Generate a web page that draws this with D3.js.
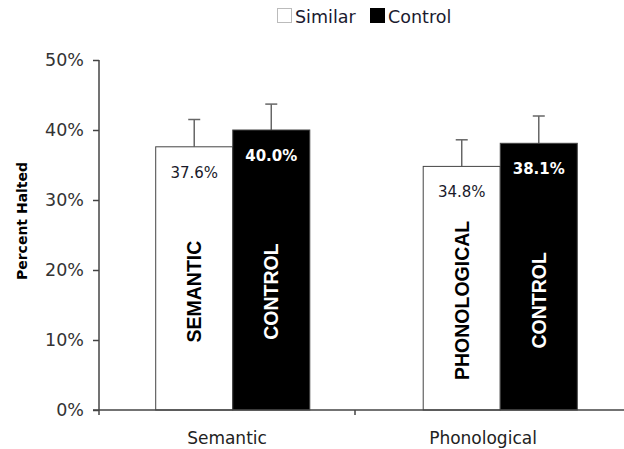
<!DOCTYPE html>
<html><head><meta charset="utf-8">
<script src="https://cdn.jsdelivr.net/npm/d3@7"></script>
<style>body{margin:0;background:#fff}svg{display:block}</style>
</head><body>
<script>
const categories = ["Semantic", "Phonological"];
const seriesNames = ["Similar", "Control"];
const similarValues = [37.6, 34.8];
const controlValues = [40.0, 38.1];
const similarErrors = [3.9, 3.8];
const controlErrors = [3.7, 3.9];
const barLabelsSimilar = ["SEMANTIC", "PHONOLOGICAL"];
const barLabelsControl = ["CONTROL", "CONTROL"];
const yTicks = [0, 10, 20, 30, 40, 50];

const W = 624, H = 449;
const svg = d3.select("body").append("svg").attr("width", W).attr("height", H);
const font = "'DejaVu Sans', Verdana, sans-serif";

const y = d3.scaleLinear().domain([0, 50]).range([410, 60]);
const xAxisScale = d3.scaleBand().domain(categories).range([99, 611]);
const xg = d3.scaleBand().domain(categories).range([99, 634]).paddingInner(0.424).paddingOuter(0.212);
const x1 = d3.scaleBand().domain(seriesNames).range([0, xg.bandwidth()]);

const data = [];
categories.forEach((c, i) => {
  const gm = Math.min(similarValues[i], controlValues[i]);
  data.push({cat: c, s: "Similar", v: similarValues[i], e: similarErrors[i], lab: barLabelsSimilar[i], fill: "#fff", tc: "#1a1a2a", grpMin: gm});
  data.push({cat: c, s: "Control", v: controlValues[i], e: controlErrors[i], lab: barLabelsControl[i], fill: "#000", tc: "#fff", grpMin: gm});
});
const bx = d => xg(d.cat) + x1(d.s);
const bw = x1.bandwidth();

// error bars
const eb = svg.append("g").attr("stroke", "#666").attr("stroke-width", 1.5);
data.forEach(d => {
  const cx = bx(d) + bw / 2;
  eb.append("line").attr("x1", cx).attr("x2", cx).attr("y1", y(d.v)).attr("y2", y(d.v + d.e));
  eb.append("line").attr("x1", cx - 6).attr("x2", cx + 6).attr("y1", y(d.v + d.e)).attr("y2", y(d.v + d.e));
});

// bars
svg.append("g").selectAll("rect").data(data).join("rect")
  .attr("x", d => bx(d)).attr("y", d => y(d.v))
  .attr("width", bw).attr("height", d => y(0) - y(d.v))
  .attr("fill", d => d.fill).attr("stroke", "#444").attr("stroke-width", 1);

// value labels
svg.append("g").selectAll("text").data(data).join("text")
  .attr("x", d => bx(d) + bw / 2).attr("y", d => y(d.v) + 31)
  .attr("text-anchor", "middle").attr("font-family", font).attr("font-size", 15)
  .attr("font-weight", d => d.s === "Control" ? "bold" : "normal")
  .attr("fill", d => d.tc).text(d => d.v.toFixed(1) + "%");

// rotated labels
svg.append("g").selectAll("text").data(data).join("text")
  .attr("transform", d => `translate(${bx(d) + bw / 2 + 7},${y(d.grpMin * 0.45)}) rotate(-90)`)
  .attr("text-anchor", "middle").attr("font-family", "'Liberation Sans', Arial, sans-serif")
  .attr("font-size", 19.5).attr("font-weight", "bold")
  .attr("fill", d => d.s === "Control" ? "#fff" : "#000").text(d => d.lab);

// y axis
const yAxis = svg.append("g").attr("transform", "translate(99,0)")
  .call(d3.axisLeft(y).tickValues(yTicks).tickSize(6).tickPadding(9).tickFormat(d => d + "%"));
yAxis.select(".domain").attr("stroke", "#444").attr("stroke-width", 1.5).attr("d", "M0,60V415");
yAxis.selectAll(".tick line").attr("stroke", "#444").attr("stroke-width", 1.5);
yAxis.selectAll("text").attr("font-family", font).attr("font-size", 17.5).attr("fill", "#333");

// x axis
const xAxis = svg.append("g").attr("transform", "translate(0,410)")
  .call(d3.axisBottom(xAxisScale).tickSize(0).tickPadding(22));
xAxis.select(".domain").attr("stroke", "#444").attr("stroke-width", 1.5).attr("d", "M93,0H624");
xAxis.selectAll("text").attr("font-family", font).attr("font-size", 17).attr("fill", "#222");
svg.append("line").attr("x1", xAxisScale("Phonological")).attr("x2", xAxisScale("Phonological"))
  .attr("y1", 410).attr("y2", 415).attr("stroke", "#444").attr("stroke-width", 1.5);

// y title
svg.append("text").attr("transform", "translate(27,221) rotate(-90)")
  .attr("text-anchor", "middle").attr("font-family", font).attr("font-size", 14)
  .attr("font-weight", "bold").attr("fill", "#000").text("Percent Halted");

// legend
const lg = svg.append("g");
const legendItems = [{n: seriesNames[0], fill: "#fff", x: 277}, {n: seriesNames[1], fill: "#000", x: 370}];
legendItems.forEach(it => {
  lg.append("rect").attr("x", it.x + 0.5).attr("y", 8.5).attr("width", 14).attr("height", 14)
    .attr("fill", it.fill).attr("stroke", it.fill === "#fff" ? "#bbb" : "#000");
  lg.append("text").attr("x", it.x + 18).attr("y", 23).attr("font-family", font)
    .attr("font-size", 17.5).attr("fill", "#1a1a30").text(it.n);
});
</script>
</body></html>
